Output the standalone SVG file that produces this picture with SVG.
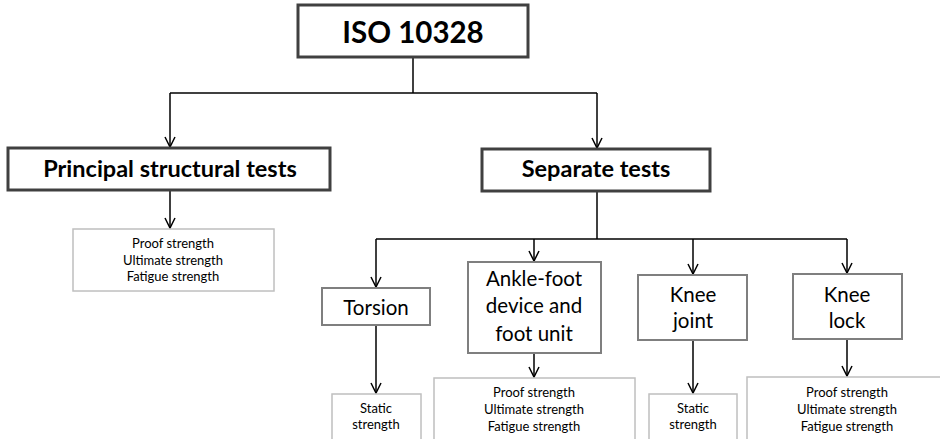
<svg xmlns="http://www.w3.org/2000/svg" width="940" height="439" viewBox="0 0 940 439">
<style>
.b1{fill:#fff;stroke:#404040;stroke-width:3}
.b2{fill:#fff;stroke:#7f7f7f;stroke-width:2}
.b3{fill:#fff;stroke:#bfbfbf;stroke-width:1.5}
.t{font-family:Lato,"Liberation Sans",sans-serif;fill:#000;text-anchor:middle}
.h{font-weight:bold;font-size:23.5px}
.m{font-size:20.5px}
.s{font-size:13px}
.c{fill:none;stroke:#000;stroke-width:1.5}
</style>
<defs>
<marker id="a" viewBox="0 0 12 12" refX="11" refY="6" markerWidth="12" markerHeight="12" markerUnits="userSpaceOnUse" orient="auto">
<path d="M1,1 L11,6 L1,11" fill="none" stroke="#000" stroke-width="1.5"/>
</marker>
</defs>
<g id="connectors">
<path class="c" d="M413,57 V93"/>
<path class="c" d="M170,93 H597"/>
<path class="c" d="M170,93 V147" marker-end="url(#a)"/>
<path class="c" d="M597,93 V148" marker-end="url(#a)"/>
<path class="c" d="M170,191 V228" marker-end="url(#a)"/>
<path class="c" d="M597,191 V239" stroke="#404040"/>
<path class="c" d="M376,239 H847"/>
<path class="c" d="M376,239 V287" marker-end="url(#a)"/>
<path class="c" d="M534,239 V261" marker-end="url(#a)"/>
<path class="c" d="M693,239 V274" marker-end="url(#a)"/>
<path class="c" d="M847,239 V273" marker-end="url(#a)"/>
<path class="c" d="M376,325 V393" marker-end="url(#a)"/>
<path class="c" d="M534,353 V377" marker-end="url(#a)"/>
<path class="c" d="M693,340 V393" marker-end="url(#a)"/>
<path class="c" d="M847,339 V376" marker-end="url(#a)"/>
</g>
<g id="iso">
<rect class="b1" x="298" y="5" width="230" height="52"/>
<text class="t" x="413" y="43" font-weight="bold" font-size="29.5">ISO 10328</text>
</g>
<g id="principal">
<rect class="b1" x="8" y="148" width="322" height="42"/>
<text class="t h" x="170" y="177">Principal structural tests</text>
</g>
<g id="principal-leaf">
<rect class="b3" x="73" y="229" width="201" height="62"/>
<text class="t s" x="173" y="248">Proof strength</text>
<text class="t s" x="173" y="265">Ultimate strength</text>
<text class="t s" x="173" y="281">Fatigue strength</text>
</g>
<g id="separate">
<rect class="b1" x="482" y="149" width="228" height="42"/>
<text class="t h" x="596" y="177">Separate tests</text>
</g>
<g id="torsion">
<rect class="b2" x="322" y="288" width="108" height="37"/>
<text class="t m" x="376" y="315">Torsion</text>
</g>
<g id="torsion-leaf">
<rect class="b3" x="332" y="394" width="89" height="50"/>
<text class="t s" x="376" y="413">Static</text>
<text class="t s" x="376" y="429">strength</text>
</g>
<g id="ankle">
<rect class="b2" x="468" y="262" width="133" height="91"/>
<text class="t m" x="534" y="286">Ankle-foot</text>
<text class="t m" x="534" y="313">device and</text>
<text class="t m" x="534" y="341">foot unit</text>
</g>
<g id="ankle-leaf">
<rect class="b3" x="434" y="378" width="201" height="66"/>
<text class="t s" x="534" y="397">Proof strength</text>
<text class="t s" x="534" y="414">Ultimate strength</text>
<text class="t s" x="534" y="431">Fatigue strength</text>
</g>
<g id="knee-joint">
<rect class="b2" x="638" y="275" width="109" height="65"/>
<text class="t m" x="693" y="302">Knee</text>
<text class="t m" x="693" y="328">joint</text>
</g>
<g id="knee-joint-leaf">
<rect class="b3" x="649" y="394" width="88" height="50"/>
<text class="t s" x="693" y="413">Static</text>
<text class="t s" x="693" y="429">strength</text>
</g>
<g id="knee-lock">
<rect class="b2" x="793" y="274" width="109" height="65"/>
<text class="t m" x="847" y="302">Knee</text>
<text class="t m" x="847" y="328">lock</text>
</g>
<g id="knee-lock-leaf">
<rect class="b3" x="747" y="377" width="200" height="67"/>
<text class="t s" x="847" y="397">Proof strength</text>
<text class="t s" x="847" y="414">Ultimate strength</text>
<text class="t s" x="847" y="431">Fatigue strength</text>
</g>
</svg>
